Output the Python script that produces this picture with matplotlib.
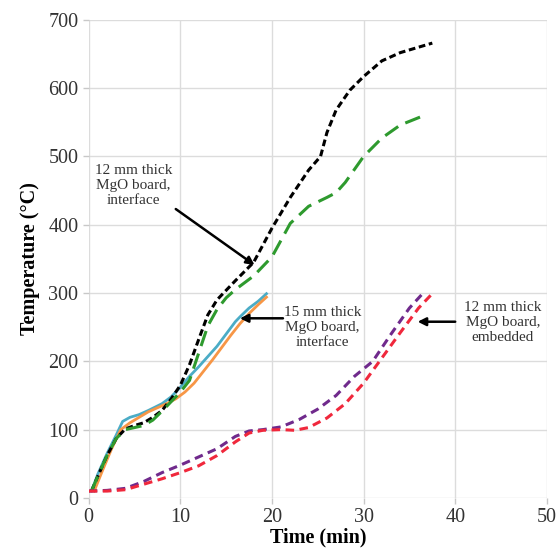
import matplotlib
matplotlib.use("Agg")
import matplotlib.pyplot as plt

plt.rcParams["font.family"] = ["Liberation Serif", "DejaVu Serif"]

# 12 mm board, interface (black, short dashes)
t_black = [0.3, 1, 2, 3, 4, 5, 6, 7, 8, 9, 10, 11, 12, 13, 14, 16, 18, 20, 22,
           24, 25.3, 26, 27, 28.5, 30, 32, 34, 36, 37.5]
T_black = [10, 32, 62, 87, 101, 106, 110, 118, 128, 145, 165, 195, 232, 268, 290,
           318, 345, 395, 440, 480, 500, 535, 568, 597, 617, 640, 652, 660, 666]

# 12 mm board, interface (green, long dashes)
t_green = [0.3, 1, 2, 3, 4, 5, 6, 7, 8, 9, 10, 11, 12, 13, 14, 15, 16, 18, 20,
           22, 24, 26, 27, 28, 30, 32, 34, 36.6]
T_green = [10, 32, 62, 87, 100, 103, 106, 114, 127, 141, 155, 172, 212, 252, 276,
           293, 305, 325, 353, 402, 427, 440, 447, 462, 500, 527, 546, 560]

# 15 mm board, interface (two solid thermocouples)
t_blue = [0.3, 1, 2, 3, 3.7, 4.5, 5.5, 6.5, 8, 9, 10, 11, 12, 13, 14, 15, 16,
          16.5, 17.5, 18.5, 19.4]
T_blue = [10, 35, 65, 92, 112, 118, 122, 128, 138, 148, 162, 178, 192, 207, 222,
          240, 258, 265, 278, 288, 299]
t_orange = [0.6, 1.5, 2.5, 3.5, 4.5, 5.5, 6.5, 7.5, 8.5, 9.5, 10.5, 11.5, 12.5,
            13.5, 14.5, 15.5, 16.5, 17.5, 18.5, 19.4]
T_orange = [10, 40, 72, 100, 110, 118, 126, 132, 138, 145, 155, 168, 185, 202,
            220, 238, 255, 270, 283, 294]

# 12 mm board, embedded (purple and red dashes)
t_purple = [0, 2, 4, 6, 8, 10, 12, 14, 16, 17.5, 19, 21, 23, 25, 27, 29, 31, 33,
            35, 36.5]
T_purple = [10, 11, 14, 24, 37, 48, 60, 72, 90, 98, 100, 104, 115, 130, 150, 178,
            200, 240, 278, 300]
t_red = [0, 2, 4, 6, 8, 10, 12, 14, 16, 17.5, 19, 21, 22.5, 24, 26, 28, 30, 32,
         34, 36, 37.7]
T_red = [10, 10, 12, 20, 28, 37, 47, 62, 82, 95, 99, 100, 99, 103, 117, 138, 168,
         205, 242, 278, 302]

fig = plt.figure(figsize=(5.58, 5.52), dpi=100)
ax = fig.add_axes([0.159, 0.098, 0.821, 0.866])

ax.plot(t_blue, T_blue, color="#4bacc6", lw=2.0)
ax.plot(t_orange, T_orange, color="#f79646", lw=2.0)
ax.plot(t_black, T_black, color="black", lw=2.2, dashes=(2.2, 1.2))
ax.plot(t_green, T_green, color="#2e9a2e", lw=2.2, dashes=(5.2, 2.6))
ax.plot(t_purple, T_purple, color="#702a8c", lw=2.2, dashes=(2.8, 1.8))
ax.plot(t_red, T_red, color="#f0283c", lw=2.2, dashes=(2.8, 1.8))

ax.set_xlim(0, 50)
ax.set_ylim(0, 700)
ax.set_xticks(range(0, 51, 10))
ax.set_yticks(range(0, 701, 100))
ax.grid(True, color="#dcdcdc", lw=1.0)
ax.set_axisbelow(True)
for s in ax.spines.values():
    s.set_visible(False)
ax.tick_params(colors="#c8c8c8", labelcolor="#333333", labelsize=14.5,
               length=4, width=1)
ax.set_xlabel("Time (min)", fontsize=14.5, fontweight="bold", labelpad=0)
ax.set_ylabel("Temperature (\u00b0C)", fontsize=14.5, fontweight="bold",
              labelpad=6)

arrow = dict(arrowstyle="-|>", color="black", lw=1.8, mutation_scale=12,
             shrinkA=0, shrinkB=0)
txt = dict(fontsize=11, color="#333333", ha="center", va="center",
           linespacing=1.2)

ax.text(4.9, 458, "12 mm thick\nMgO board,\ninterface", **txt)
ax.annotate("", xy=(18.1, 341), xytext=(9.5, 423), arrowprops=arrow)

ax.text(25.5, 249, "15 mm thick\nMgO board,\ninterface", **txt)
ax.annotate("", xy=(16.5, 263), xytext=(21.2, 263), arrowprops=arrow)

ax.text(45.2, 257, "12 mm thick\nMgO board,\nembedded", **txt)
ax.annotate("", xy=(35.9, 258), xytext=(40.0, 258), arrowprops=arrow)

fig.savefig("out.png", dpi=100)
